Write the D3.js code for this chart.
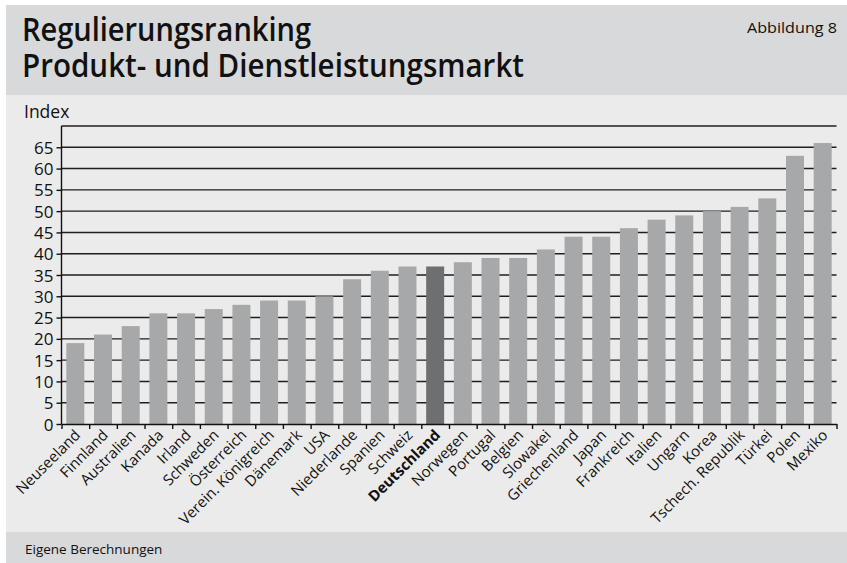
<html>
<head>
<meta charset="utf-8">
<script src="https://cdn.jsdelivr.net/npm/d3@7"></script>
<style>
body { margin: 0; background: #fff; }
text { font-family: 'Open Sans', 'Noto Sans', sans-serif; fill: #111; }
</style>
</head>
<body>
<svg></svg>
<script>

var width = 847;
var height = 563;

// data
var countries = ["Neuseeland", "Finnland", "Australien", "Kanada", "Irland", "Schweden", "Österreich",
	"Verein. Königreich", "Dänemark", "USA", "Niederlande", "Spanien", "Schweiz", "Deutschland",
	"Norwegen", "Portugal", "Belgien", "Slowakei", "Griechenland", "Japan", "Frankreich", "Italien",
	"Ungarn", "Korea", "Tschech. Republik", "Türkei", "Polen", "Mexiko"];
var values = [19, 21, 23, 26, 26, 27, 28, 29, 29, 30, 34, 36, 37, 37, 38, 39, 39, 41, 44, 44, 46, 48,
	49, 50, 51, 53, 63, 66];
var yTicks = [0, 5, 10, 15, 20, 25, 30, 35, 40, 45, 50, 55, 60, 65];
var highlight = "Deutschland";

var plotLeft = 61.5, plotRight = 836.5, plotTop = 126, plotBottom = 424;

var svg = d3.select("svg").attr("width", width).attr("height", height);

// backgrounds
svg.append("rect").attr("x", 6).attr("y", 5).attr("width", width - 6).attr("height", 90).style("fill", "#d8d9da");
svg.append("rect").attr("x", 6).attr("y", 95).attr("width", width - 6).attr("height", 437).style("fill", "#ebebeb");
svg.append("rect").attr("x", 6).attr("y", 532).attr("width", width - 6).attr("height", 31).style("fill", "#d8d9da");

// titles
svg.append("text").attr("x", 22).attr("y", 41).text("Regulierungsranking")
.attr("textLength", 289).attr("lengthAdjust", "spacingAndGlyphs")
.style("font-size", "33px").style("font-weight", "600");
svg.append("text").attr("x", 22).attr("y", 77).text("Produkt- und Dienstleistungsmarkt")
.attr("textLength", 502).attr("lengthAdjust", "spacingAndGlyphs")
.style("font-size", "33px").style("font-weight", "600");
svg.append("text").attr("x", 747).attr("y", 33).text("Abbildung 8")
.attr("textLength", 90).attr("lengthAdjust", "spacingAndGlyphs")
.style("font-size", "15px");
svg.append("text").attr("x", 24).attr("y", 118).text("Index").style("font-size", "17.5px");
svg.append("text").attr("x", 25).attr("y", 554).text("Eigene Berechnungen").style("font-size", "13.5px");

var xScale = d3.scaleBand()
.domain(countries)
.range([plotLeft, plotRight])
.paddingInner(0.35)
.paddingOuter(0.175);

var edgeScale = d3.scaleLinear()
.domain([0, countries.length])
.range([plotLeft, plotRight]);

var yScale = d3.scaleLinear()
.domain([0, 70])
.range([plotBottom, plotTop]);

// gridlines, behind the bars
svg.selectAll("line.grid").data(yTicks.slice(1).concat([70])).enter().append("line")
.attr("class", "grid")
.attr("x1", plotLeft).attr("x2", plotRight)
.attr("y1", function (d) { return yScale(d); })
.attr("y2", function (d) { return yScale(d); })
.style("stroke", "#1e1e1e").style("stroke-width", 1.4);

// bars
svg.selectAll("rect.bar").data(countries).enter().append("rect")
.attr("class", "bar")
.attr("x", function (d) { return xScale(d); })
.attr("width", xScale.bandwidth())
.attr("y", function (d, i) { return yScale(values[i]); })
.attr("height", function (d, i) { return plotBottom - yScale(values[i]); })
.style("fill", function (d) { return d == highlight ? "#6e6f71" : "#a7a8aa"; });

// y axis
var yAxis = svg.append("g").attr("transform", "translate(" + plotLeft + ",0)")
.call(d3.axisLeft(yScale).tickValues(yTicks).tickSize(5).tickSizeOuter(0));
yAxis.select(".domain").attr("d", "M0," + plotTop + "V" + plotBottom).style("stroke", "#111").style("stroke-width", 1.4);
yAxis.selectAll(".tick line").style("stroke", "#111").style("stroke-width", 1.4);
yAxis.selectAll(".tick text").attr("x", -8).attr("dy", "0.36em")
.style("font-size", "17px").style("font-family", "'Open Sans', sans-serif").style("fill", "#111");

// x axis: ticks at the category edges
var xAxis = svg.append("g").attr("transform", "translate(0," + plotBottom + ")")
.call(d3.axisBottom(edgeScale).tickValues(d3.range(countries.length + 1)).tickSize(5).tickSizeOuter(0).tickFormat(""));
xAxis.select(".domain").style("stroke", "#111").style("stroke-width", 1.4);
xAxis.selectAll(".tick line").style("stroke", "#111").style("stroke-width", 1.4);

// rotated category labels
svg.selectAll("text.cat").data(countries).enter().append("text")
.attr("class", "cat")
.attr("text-anchor", "end")
.attr("transform", function (d) {
	return "translate(" + (xScale(d) + xScale.bandwidth() / 2 + 6) + "," + (plotBottom + 12) + ") rotate(-45)";
})
.style("font-size", "15px")
.style("font-weight", function (d) { return d == highlight ? "700" : "400"; })
.text(function (d) { return d; });

</script>
</body>
</html>
